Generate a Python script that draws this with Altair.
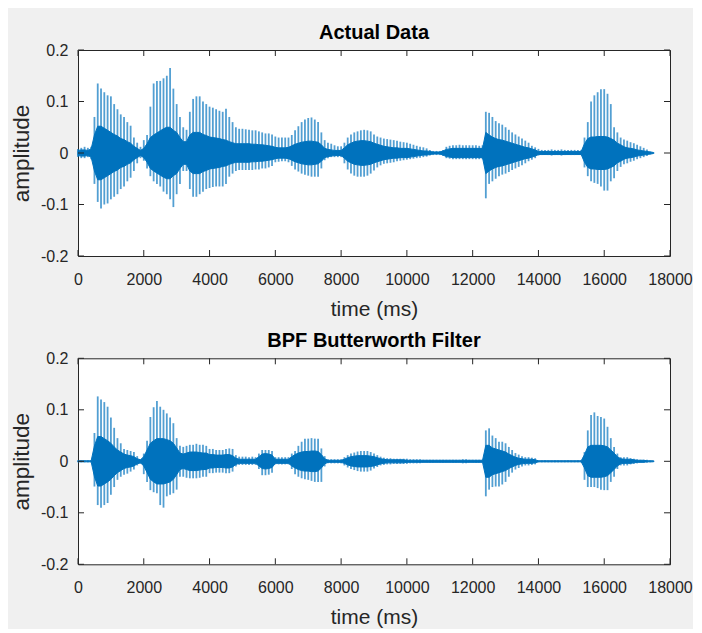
import altair as alt
import pandas as pd

T = list(range(0, 17501, 100))

XTICKS = [0, 2000, 4000, 6000, 8000, 10000, 12000, 14000, 16000, 18000]
YTICKS = [-0.2, -0.1, 0.0, 0.1, 0.2]

# ---- Actual Data: upper peaks, lower peaks, dense-core half-width ----
act_up = [
    .008, .010, .012, .010, .012, .070, .135, .125, .118, .112,
    .110, .095, .085, .075, .070, .060, .053, .030, .020, .012,
    .025, .035, .090, .135, .140, .140, .145, .150, .165, .125,
    .095, .070, .050, .045, .080, .105, .110, .110, .100, .095,
    .090, .088, .085, .082, .080, .086, .070, .060, .050, .047,
    .047, .046, .045, .044, .044, .042, .040, .038, .038, .036,
    .032, .030, .030, .030, .030, .035, .044, .052, .060, .065,
    .068, .069, .065, .060, .040, .025, .020, .018, .015, .013,
    .013, .020, .030, .036, .040, .042, .044, .045, .044, .042,
    .036, .032, .030, .028, .027, .026, .025, .024, .022, .021,
    .020, .018, .016, .014, .012, .011, .009, .006, .004, .004,
    .004, .006, .012, .014, .015, .015, .016, .015, .015, .015,
    .015, .015, .014, .015, .080, .078, .070, .062, .058, .055,
    .050, .045, .040, .036, .032, .028, .024, .020, .014, .011,
    .008, .006, .006, .006, .007, .006, .006, .007, .006, .006,
    .006, .006, .006, .006, .030, .060, .100, .112, .118, .124,
    .124, .115, .095, .050, .040, .030, .026, .024, .021, .019,
    .016, .013, .010, .007, .003, .001,
]
act_lo = [
    -.008, -.010, -.010, -.008, -.012, -.060, -.095, -.108, -.100, -.098,
    -.090, -.085, -.080, -.070, -.065, -.055, -.048, -.035, -.020, -.010,
    -.015, -.030, -.045, -.055, -.060, -.065, -.075, -.080, -.090, -.105,
    -.080, -.060, -.035, -.035, -.070, -.085, -.085, -.080, -.075, -.070,
    -.068, -.066, -.065, -.065, -.065, -.060, -.046, -.040, -.035, -.033,
    -.033, -.033, -.033, -.033, -.032, -.032, -.030, -.030, -.028, -.025,
    -.018, -.017, -.016, -.016, -.018, -.025, -.032, -.036, -.040, -.042,
    -.044, -.046, -.046, -.046, -.030, -.014, -.010, -.008, -.008, -.008,
    -.008, -.020, -.032, -.040, -.044, -.046, -.046, -.046, -.044, -.040,
    -.034, -.028, -.024, -.021, -.020, -.019, -.018, -.016, -.015, -.014,
    -.013, -.012, -.011, -.010, -.009, -.008, -.007, -.005, -.004, -.004,
    -.004, -.006, -.010, -.011, -.012, -.012, -.012, -.012, -.012, -.012,
    -.012, -.012, -.012, -.012, -.088, -.060, -.055, -.050, -.045, -.042,
    -.040, -.037, -.033, -.030, -.027, -.024, -.020, -.016, -.013, -.010,
    -.005, -.004, -.004, -.004, -.005, -.004, -.004, -.005, -.004, -.004,
    -.004, -.004, -.004, -.004, -.028, -.045, -.055, -.058, -.060, -.065,
    -.073, -.073, -.055, -.049, -.035, -.027, -.022, -.020, -.017, -.015,
    -.012, -.010, -.008, -.006, -.003, -.001,
]
act_core = [
    .005, .006, .006, .005, .008, .035, .052, .052, .048, .044,
    .040, .036, .033, .028, .026, .022, .019, .013, .009, .005,
    .009, .018, .030, .035, .039, .043, .047, .050, .050, .044,
    .040, .030, .022, .022, .035, .040, .040, .040, .036, .034,
    .031, .030, .029, .028, .026, .025, .022, .020, .018, .018,
    .018, .018, .018, .017, .017, .016, .016, .015, .014, .013,
    .011, .010, .010, .010, .011, .014, .017, .019, .021, .022,
    .023, .023, .022, .021, .016, .009, .007, .006, .005, .005,
    .005, .010, .016, .019, .022, .023, .024, .024, .023, .022,
    .019, .017, .015, .013, .012, .011, .010, .010, .009, .009,
    .009, .008, .007, .006, .005, .004, .004, .003, .002, .002,
    .002, .004, .007, .008, .009, .009, .009, .009, .009, .009,
    .009, .009, .009, .009, .040, .035, .031, .028, .026, .025,
    .023, .021, .019, .017, .015, .013, .011, .010, .008, .006,
    .003, .003, .003, .003, .003, .003, .003, .003, .003, .003,
    .003, .003, .003, .003, .018, .028, .031, .031, .032, .032,
    .032, .031, .028, .025, .019, .016, .012, .010, .009, .008,
    .006, .005, .004, .003, .002, .001,
]

# ---- BPF Butterworth Filter ----
bpf_up = [
    .002, .002, .002, .002, .002, .055, .126, .120, .115, .106,
    .085, .065, .045, .035, .024, .022, .020, .018, .010, .004,
    .015, .040, .086, .105, .117, .106, .100, .093, .085, .074,
    .045, .030, .028, .030, .032, .032, .034, .032, .032, .030,
    .024, .024, .022, .022, .022, .024, .025, .024, .012, .009,
    .009, .009, .008, .009, .008, .015, .022, .022, .022, .020,
    .008, .008, .008, .008, .008, .015, .020, .030, .038, .044,
    .044, .045, .044, .044, .025, .010, .004, .004, .004, .004,
    .004, .008, .012, .015, .017, .019, .020, .020, .020, .018,
    .015, .012, .009, .007, .006, .006, .005, .005, .005, .005,
    .005, .004, .004, .004, .004, .003, .003, .003, .003, .003,
    .003, .003, .003, .003, .003, .003, .003, .004, .004, .003,
    .003, .003, .003, .003, .060, .064, .050, .045, .038, .038,
    .035, .028, .022, .016, .013, .010, .008, .008, .007, .006,
    .002, .002, .002, .002, .002, .002, .002, .002, .002, .002,
    .002, .002, .002, .002, .018, .060, .090, .095, .088, .086,
    .083, .067, .045, .028, .015, .008, .008, .008, .006, .005,
    .004, .003, .003, .003, .002, .001,
]
bpf_lo = [
    -.002, -.002, -.002, -.002, -.002, -.049, -.085, -.090, -.085, -.081,
    -.065, -.050, -.036, -.030, -.026, -.024, -.020, -.016, -.008, -.005,
    -.025, -.040, -.056, -.060, -.062, -.085, -.090, -.068, -.065, -.062,
    -.055, -.030, -.030, -.032, -.033, -.033, -.033, -.032, -.030, -.030,
    -.023, -.023, -.022, -.022, -.022, -.023, -.023, -.020, -.010, -.007,
    -.007, -.007, -.007, -.007, -.007, -.015, -.027, -.027, -.026, -.022,
    -.006, -.006, -.006, -.006, -.006, -.015, -.025, -.030, -.033, -.035,
    -.036, -.038, -.040, -.040, -.040, -.010, -.004, -.004, -.004, -.004,
    -.004, -.008, -.012, -.015, -.017, -.019, -.020, -.020, -.020, -.018,
    -.014, -.011, -.008, -.007, -.006, -.006, -.005, -.005, -.005, -.005,
    -.005, -.004, -.004, -.004, -.004, -.003, -.003, -.003, -.003, -.003,
    -.003, -.003, -.003, -.003, -.003, -.003, -.003, -.004, -.004, -.003,
    -.003, -.003, -.003, -.003, -.068, -.055, -.050, -.049, -.049, -.045,
    -.040, -.030, -.022, -.016, -.013, -.010, -.008, -.008, -.007, -.006,
    -.002, -.002, -.002, -.002, -.002, -.002, -.002, -.002, -.002, -.002,
    -.002, -.002, -.002, -.002, -.036, -.050, -.050, -.050, -.052, -.055,
    -.056, -.056, -.040, -.030, -.015, -.008, -.008, -.008, -.006, -.005,
    -.004, -.003, -.003, -.003, -.002, -.001,
]
bpf_core = [
    .001, .001, .001, .001, .001, .030, .048, .048, .044, .040,
    .035, .028, .022, .018, .014, .012, .011, .009, .005, .003,
    .009, .022, .035, .040, .044, .044, .044, .042, .040, .035,
    .026, .016, .014, .016, .018, .018, .018, .017, .016, .016,
    .013, .013, .012, .012, .012, .013, .013, .011, .006, .004,
    .004, .004, .004, .004, .004, .009, .014, .015, .014, .012,
    .004, .004, .004, .004, .004, .009, .013, .016, .018, .019,
    .019, .020, .020, .019, .013, .005, .002, .002, .002, .002,
    .002, .004, .007, .009, .010, .011, .011, .011, .011, .010,
    .009, .007, .005, .004, .003, .003, .003, .003, .003, .003,
    .002, .002, .002, .002, .002, .002, .002, .002, .002, .002,
    .002, .002, .002, .002, .002, .002, .002, .002, .002, .002,
    .002, .002, .002, .002, .031, .031, .026, .024, .022, .020,
    .018, .014, .011, .008, .006, .005, .004, .004, .004, .003,
    .001, .001, .001, .001, .001, .001, .001, .001, .001, .001,
    .001, .001, .001, .001, .013, .028, .031, .031, .031, .031,
    .030, .028, .022, .016, .009, .005, .004, .004, .004, .003,
    .002, .002, .002, .001, .001, .001,
]

BLUE = "#0072BD"
AXC = "#262626"
FONT = "Liberation Sans"
W, H = 592, 206
TK = 6

Y_LABEL = ("datum.value < 0 ? '-' + format(-datum.value, '.1f') : "
           "(datum.value == 0 ? '0' : format(datum.value, '.1f'))")


def panel(title, up, lo, core):
    df = pd.DataFrame({"t": T, "up": up, "lo": lo,
                       "chi": core, "clo": [-c for c in core]})
    xs = alt.Scale(domain=[0, 18000], nice=False, zero=False)
    ys = alt.Scale(domain=[-0.2, 0.2], nice=False)
    xaxis = alt.Axis(values=XTICKS, format="d", title="time (ms)",
                     ticks=False, domain=False, grid=False,
                     labelOverlap=False, labelFlush=False,
                     labelPadding=15, titlePadding=11.5)
    yaxis = alt.Axis(values=YTICKS, labelExpr=Y_LABEL, title="amplitude",
                     ticks=False, domain=False, grid=False,
                     labelOverlap=False, labelFlush=False,
                     labelPadding=10, titlePadding=7, titleFontSize=22.5)
    base = alt.Chart(df)
    spikes = base.mark_rule(color=BLUE, strokeWidth=1.8, opacity=0.68).encode(
        x=alt.X("t:Q", scale=xs, axis=xaxis),
        y=alt.Y("lo:Q", scale=ys, axis=yaxis),
        y2="up:Q",
    )
    dense = base.mark_area(color=BLUE, stroke=BLUE, strokeWidth=1,
                           opacity=1).encode(
        x="t:Q", y="clo:Q", y2="chi:Q")

    xt = alt.Chart(pd.DataFrame({"v": XTICKS}))
    yt = alt.Chart(pd.DataFrame({"w": YTICKS}))
    tb = xt.mark_rule(color=AXC, strokeWidth=1).encode(
        x="v:Q", y=alt.value(H), y2=alt.value(H - TK))
    tt = xt.mark_rule(color=AXC, strokeWidth=1).encode(
        x="v:Q", y=alt.value(0), y2=alt.value(TK))
    tl = yt.mark_rule(color=AXC, strokeWidth=1).encode(
        y="w:Q", x=alt.value(0), x2=alt.value(TK))
    tr = yt.mark_rule(color=AXC, strokeWidth=1).encode(
        y="w:Q", x=alt.value(W), x2=alt.value(W - TK))

    return alt.layer(spikes, dense, tb, tt, tl, tr).properties(
        width=W, height=H,
        title=alt.TitleParams(title, font=FONT, fontSize=20,
                              fontWeight="bold", color="black", offset=-1,
                              anchor="middle"),
    )


top = panel("Actual Data", act_up, act_lo, act_core)
bottom = panel("BPF Butterworth Filter", bpf_up, bpf_lo, bpf_core)

chart = alt.vconcat(top, bottom, spacing=10.3).configure(
    background="#f0f0f0",
    padding={"left": 1, "top": 14, "right": 0, "bottom": 0},
).configure_view(
    stroke=AXC, strokeWidth=1, fill="white"
).configure_axis(
    labelFont=FONT, labelFontSize=16, labelColor=AXC,
    titleFont=FONT, titleFontSize=21, titleColor=AXC,
    titleFontWeight="normal",
)

chart.save("out.html", embed_options={"renderer": "svg", "actions": False})
